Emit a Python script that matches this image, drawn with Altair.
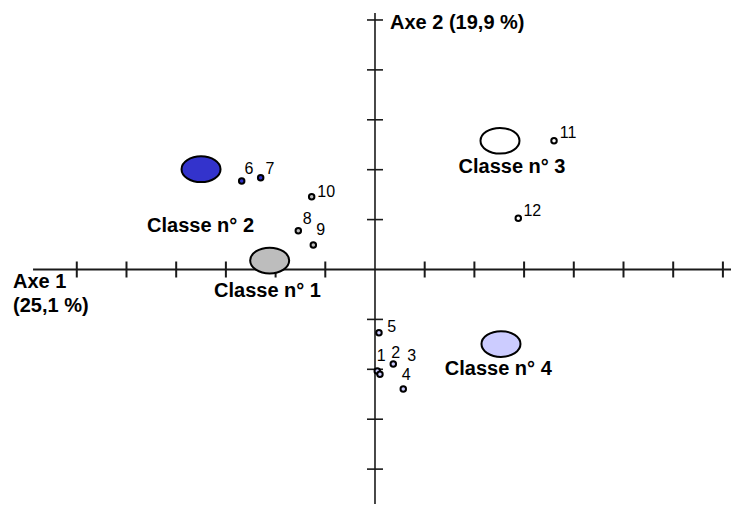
import altair as alt
import pandas as pd

# ---------------- data ----------------
point_ids = ["1", "2", "3", "4", "5", "6", "7", "8", "9", "10", "11", "12"]
point_x = [0.046, 0.368, 0.100, 0.569, 0.080, -2.682, -2.300, -1.543, -1.241, -1.274, 3.602, 2.883]
point_y = [-2.034, -1.894, -2.100, -2.395, -1.267, 1.774, 1.840, 0.778, 0.491, 1.459, 2.581, 1.026]
point_class = ["Classe n° 4"] * 5 + ["Classe n° 2"] * 2 + ["Classe n° 1"] * 3 + ["Classe n° 3"] * 2

class_names = ["Classe n° 1", "Classe n° 2", "Classe n° 3", "Classe n° 4"]
class_x = [-2.119, -3.500, 2.515, 2.535]
class_y = [0.180, 2.010, 2.580, -1.493]

axis_titles = ["Axe 1\n(25,1 %)", "Axe 2 (19,9 %)"]
x_axis_range = [-6.88, 7.40]
y_axis_range = [-5.05, 5.14]
x_ticks = [-6, -5, -4, -3, -2, -1, 1, 2, 3, 4, 5, 6, 7]
y_ticks = [-5, -4, -3, -2, -1, 1, 2, 3, 4, 5]

# ---------------- styles ----------------
class_colors = ["#bdbdbd", "#3333cc", "#ffffff", "#ccccff"]
point_label_dx = [4, 2.5, 31.7, 2.9, 12.8, 7.3, 9.3, 9, 7.4, 14.5, 14, 14]
point_label_dy = [-10.3, -5.7, -13.6, -9, -0.4, -7, -3.3, -7, -9.7, 0.6, -2.4, -2.3]
class_label_dx = [-2.2, -0.5, 12, -2.7]
class_label_dy = [36.8, 62.7, 31.9, 31]
FONT = "Liberation Sans"
AXIS_COLOR = "#1a1a1a"

X_DOMAIN = [-7.384, 7.163]
Y_DOMAIN = [-4.699, 5.240]
xs = alt.Scale(domain=X_DOMAIN, nice=False, zero=False)
ys = alt.Scale(domain=Y_DOMAIN, nice=False, zero=False)


def X(f):
    return alt.X(f, type="quantitative", scale=xs, axis=None)


def Y(f):
    return alt.Y(f, type="quantitative", scale=ys, axis=None)


fill_scale = alt.Scale(domain=class_names, range=class_colors)

pts = pd.DataFrame({"id": point_ids, "x": point_x, "y": point_y, "cls": point_class})
cls = pd.DataFrame({"cls": class_names, "x": class_x, "y": class_y})
hline_df = pd.DataFrame({"x": [x_axis_range[0]], "x2": [x_axis_range[1]], "y": [0.0]})
vline_df = pd.DataFrame({"x": [0.0], "y": [y_axis_range[0]], "y2": [y_axis_range[1]]})
xt_df = pd.DataFrame({"t": x_ticks, "z": [0.0] * len(x_ticks)})
yt_df = pd.DataFrame({"t": y_ticks, "z": [0.0] * len(y_ticks)})

layers = []

layers.append(alt.Chart(hline_df).mark_rule(color=AXIS_COLOR, strokeWidth=2).encode(
    x=X("x"), x2="x2", y=Y("y")))
layers.append(alt.Chart(vline_df).mark_rule(color=AXIS_COLOR, strokeWidth=1.6).encode(
    x=X("x"), y=Y("y"), y2="y2"))
layers.append(alt.Chart(xt_df).mark_rule(color=AXIS_COLOR, strokeWidth=2, yOffset=-8, y2Offset=8).encode(
    x=X("t"), y=Y("z"), y2="z"))
layers.append(alt.Chart(yt_df).mark_rule(color=AXIS_COLOR, strokeWidth=1.6, xOffset=-8, x2Offset=8).encode(
    y=Y("t"), x=X("z"), x2="z"))

ELLIPSE = ("M 1 0 C 1 0.3645 0.5523 0.66 0 0.66 C -0.5523 0.66 -1 0.3645 -1 0 "
           "C -1 -0.3645 -0.5523 -0.66 0 -0.66 C 0.5523 -0.66 1 -0.3645 1 0 Z")

layers.append(alt.Chart(cls).mark_point(shape=ELLIPSE, filled=True, size=1521, stroke="black",
                                        strokeWidth=2, opacity=1, fillOpacity=1).encode(
    x=X("x"), y=Y("y"), fill=alt.Fill("cls:N", scale=fill_scale, legend=None)))

layers.append(alt.Chart(pts).mark_point(shape="circle", filled=True, size=30, stroke="black",
                                        strokeWidth=2, opacity=1, fillOpacity=1).encode(
    x=X("x"), y=Y("y"), fill=alt.Fill("cls:N", scale=fill_scale, legend=None)))

for i, pid in enumerate(point_ids):
    layers.append(alt.Chart(pts).transform_filter(alt.datum.id == pid).mark_text(
        font=FONT, fontSize=16, align="center", baseline="alphabetic", color="black",
        dx=point_label_dx[i], dy=point_label_dy[i]).encode(x=X("x"), y=Y("y"), text="id:N"))

for i, cname in enumerate(class_names):
    layers.append(alt.Chart(cls).transform_filter(alt.datum.cls == cname).mark_text(
        font=FONT, fontSize=20, fontWeight="bold", align="center", baseline="alphabetic",
        color="black", dx=class_label_dx[i], dy=class_label_dy[i]).encode(
        x=X("x"), y=Y("y"), text="cls:N"))

t1 = pd.DataFrame({"x": [x_axis_range[0]], "y": [0.0], "t": [axis_titles[0]]})
t2 = pd.DataFrame({"x": [0.0], "y": [y_axis_range[1]], "t": [axis_titles[1]]})
layers.append(alt.Chart(t1).mark_text(font=FONT, fontSize=20, fontWeight="bold", align="left",
                                      baseline="alphabetic", lineBreak="\n", lineHeight=24,
                                      color="black", dx=-20, dy=18.7).encode(
    x=X("x"), y=Y("y"), text="t:N"))
layers.append(alt.Chart(t2).mark_text(font=FONT, fontSize=20, fontWeight="bold", align="left",
                                      baseline="alphabetic", color="black", dx=15, dy=16).encode(
    x=X("x"), y=Y("y"), text="t:N"))

chart = alt.layer(*layers).properties(
    width=723, height=496, padding=0, background="white",
    autosize=alt.AutoSizeParams(type="none"),
).configure_view(stroke=None)

chart.save("out.html", embed_options={"renderer": "svg", "actions": False})
